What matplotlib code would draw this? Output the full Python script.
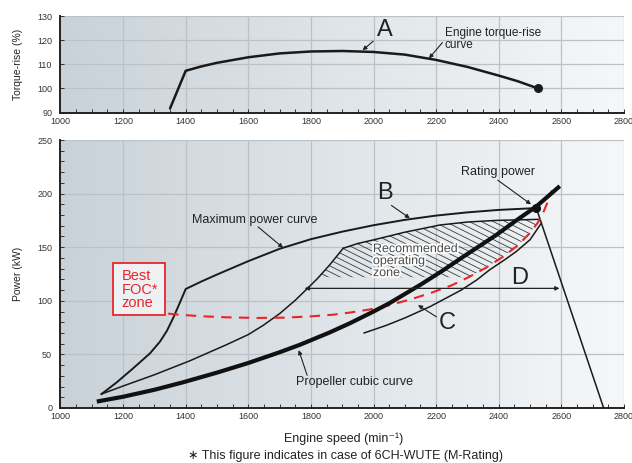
import numpy as np
import matplotlib
matplotlib.use("Agg")
import matplotlib.pyplot as plt
from matplotlib.patches import Polygon, Rectangle
from matplotlib.ticker import MultipleLocator
from matplotlib.colors import LinearSegmentedColormap
import matplotlib.patheffects as pe

plt.rcParams['font.family'] = ['Liberation Sans', 'DejaVu Sans']

# ---- data ----
# top: engine torque-rise curve
torque_rpm = [1350, 1400, 1450, 1500, 1600, 1700, 1800, 1900, 2000, 2100, 2200, 2300, 2400, 2460, 2525]
torque_pct = [91.7, 107.3, 109.1, 110.6, 112.9, 114.5, 115.3, 115.5, 115.1, 114.0, 111.8, 108.9, 105.3, 103.0, 100.0]

# bottom: maximum power curve
max_rpm = [1131, 1180, 1232, 1286, 1318, 1340, 1360, 1381, 1400, 1450, 1500, 1600, 1700,
           1800, 1900, 2000, 2100, 2200, 2300, 2400, 2520]
max_kw = [13, 24, 37, 51, 62, 72, 84, 98, 111, 118, 124.5, 137, 148.5,
          157.5, 164.5, 170.5, 175.5, 179.5, 182.5, 184.8, 186.5]

# governor line after rating point
gov_rpm = [2520, 2735]
gov_kw = [186.5, 0]

# propeller cubic curve
prop_rpm = [1116, 1200, 1300, 1392, 1500, 1600, 1700, 1765, 1860, 1924, 2000, 2052,
            2150, 2220, 2286, 2390, 2456, 2520, 2595]
prop_kw = [6, 10.5, 17, 24, 33, 42, 52, 59, 70.5, 79, 90, 98,
           115, 128, 141, 161, 175, 188, 207]

# left boundary of recommended zone
low_rpm = [1131, 1200, 1300, 1413, 1530, 1600, 1647, 1700, 1750, 1780, 1820, 1860, 1903]
low_kw = [13, 20.5, 31, 44, 59, 68.5, 77, 88, 100.5, 109, 120.5, 133.5, 149]

# upper boundary of recommended zone
zone_rpm = [1903, 1950, 1998, 2100, 2212, 2300, 2392, 2530]
zone_kw = [149, 153.5, 156.7, 164, 170.7, 173.5, 175, 176]

# line C (thin)
c_rpm = [1970, 2040, 2100, 2180, 2280, 2330, 2370, 2420, 2456, 2500, 2535]
c_kw = [70, 77, 84, 94.5, 110, 119.5, 128.7, 138.5, 146, 157, 172]

# best FOC (red dashed)
foc_rpm = [1344, 1380, 1450, 1530, 1626, 1720, 1800, 1870, 1924, 2000, 2052, 2120, 2180,
           2250, 2307, 2360, 2413, 2460, 2499, 2525, 2541, 2556, 2570]
foc_kw = [88, 87, 85.6, 84.6, 84, 84.3, 85.5, 87, 89, 92.5, 96, 101.5, 107,
          114.5, 122.5, 131, 141, 151.5, 163, 173, 181.6, 192, 203]

rating = (2520, 186.5)
torque_end = (2525, 100)
d_rpm = [1780, 2594]
d_kw = 111.6
hatch_floor = 122

fig = plt.figure(figsize=(6.32, 4.63), dpi=100)
ax1 = fig.add_axes([0.0957, 0.757, 0.8916, 0.2084])
ax2 = fig.add_axes([0.0957, 0.1188, 0.8916, 0.5788])

bg = LinearSegmentedColormap.from_list('bg', ['#c9d2d9', '#dfe5e9', '#f6f7f8'])
grad = np.linspace(0, 1, 256).reshape(1, -1)

for ax in (ax1, ax2):
    ax.imshow(grad, cmap=bg, extent=[0, 1, 0, 1], transform=ax.transAxes,
              aspect='auto', zorder=0)
    ax.set_xlim(1000, 2800)
    ax.set_xticks(np.arange(1000, 2801, 200))
    ax.xaxis.set_minor_locator(MultipleLocator(50))
    ax.grid(True, color='#bcc1c5', lw=0.9, zorder=0.5)
    ax.set_axisbelow(True)
    for s in ('top', 'right'):
        ax.spines[s].set_visible(False)
    for s in ('left', 'bottom'):
        ax.spines[s].set_color('#222222')
        ax.spines[s].set_linewidth(1.4)
    ax.tick_params(which='both', direction='in', colors='#333333', labelsize=6.5,
                   length=3, width=0.7)
    ax.tick_params(axis='x', pad=3)
    ax.tick_params(axis='y', pad=6)

ax1.set_ylim(90, 130)
ax1.set_yticks(np.arange(90, 131, 10))
ax2.set_ylim(0, 250)
ax2.set_yticks(np.arange(0, 251, 50))
ax2.yaxis.set_minor_locator(MultipleLocator(10))

arrow = dict(arrowstyle='-|>', color='#222222', lw=0.8, mutation_scale=6,
             shrinkA=0, shrinkB=0)

# ---- top panel ----
ax1.plot(torque_rpm, torque_pct, color='#1a1a1a', lw=1.8, zorder=3,
         solid_capstyle='round', solid_joinstyle='round')
ax1.plot(*torque_end, 'o', color='#1a1a1a', ms=5.5, zorder=4)
ax1.text(2036, 124.2, 'A', fontsize=17, color='#222222', ha='center', va='center')
ax1.annotate('', xy=(1965, 115.8), xytext=(1999, 119.6), arrowprops=arrow)
ax1.text(2227, 120.5, 'Engine torque-rise\ncurve', fontsize=8.5, color='#222222',
         ha='left', va='center', linespacing=1.05)
ax1.annotate('', xy=(2177, 112.4), xytext=(2220, 119), arrowprops=arrow)

# ---- bottom panel ----
# hatched recommended zone
hx_top = np.concatenate([low_rpm, zone_rpm])
hy_top = np.concatenate([low_kw, zone_kw])
keep = hy_top >= hatch_floor
x_left = np.interp(hatch_floor, low_kw, low_rpm)
foc_arr_x = np.array(foc_rpm)
foc_arr_y = np.array(foc_kw)
foc_mask = (foc_arr_y > hatch_floor) & (foc_arr_y < zone_kw[-1])
x_right = np.interp(hatch_floor, foc_kw, foc_rpm)
poly_x = np.concatenate([[x_left], hx_top[keep], foc_arr_x[foc_mask][::-1], [x_right]])
poly_y = np.concatenate([[hatch_floor], hy_top[keep], foc_arr_y[foc_mask][::-1], [hatch_floor]])
zone_patch = Polygon(np.column_stack([poly_x, poly_y]), closed=True, fill=False,
                     lw=0, zorder=1)
ax2.add_patch(zone_patch)
hx = np.array([1700, 2700])
for c in np.arange(100, 330, 5.6):
    ln, = ax2.plot(hx, c - 0.146 * (hx - 1700), color='#3a3a3a', lw=0.6, zorder=1.5)
    ln.set_clip_path(zone_patch)

thin = dict(color='#1a1a1a', lw=1.1, zorder=3, solid_joinstyle='round')
ax2.plot(low_rpm, low_kw, **thin)
ax2.plot(zone_rpm, zone_kw, **thin)
ax2.plot(gov_rpm, gov_kw, **thin)
ax2.plot(c_rpm, c_kw, **thin)
ax2.plot(max_rpm, max_kw, color='#1a1a1a', lw=1.4, zorder=3, solid_joinstyle='round')
ax2.plot(foc_rpm, foc_kw, color='#e8262a', lw=1.5, ls=(0, (5, 3.5)), zorder=3.5)
ax2.plot(prop_rpm, prop_kw, color='#111111', lw=3.0, zorder=4,
         solid_capstyle='butt', solid_joinstyle='round')
ax2.plot(*rating, 'o', color='#111111', ms=5.5, zorder=5)

# D arrow
ax2.annotate('', xy=(d_rpm[1], d_kw), xytext=(d_rpm[0], d_kw),
             arrowprops=dict(arrowstyle='<|-|>', color='#222222', lw=0.9,
                             mutation_scale=6, shrinkA=0, shrinkB=0), zorder=4)

# labels
big = dict(fontsize=17, color='#222222', ha='center', va='center')
ax2.text(2036, 200.6, 'B', **big)
ax2.annotate('', xy=(2116, 177), xytext=(2057, 189), arrowprops=arrow)
ax2.text(2237, 79.3, 'C', **big)
ax2.annotate('', xy=(2142, 96), xytext=(2201, 85), arrowprops=arrow)
ax2.text(2467, 121, 'D', **big)

lab = dict(fontsize=9, color='#222222', ha='center', va='center')
ax2.text(2397, 220, 'Rating power', **lab)
ax2.annotate('', xy=(2503, 190), xytext=(2397, 212.5), arrowprops=arrow)
ax2.text(1621, 175.4, 'Maximum power curve', **lab)
ax2.annotate('', xy=(1711, 149.5), xytext=(1631, 169), arrowprops=arrow)
ax2.text(1938, 24.5, 'Propeller cubic curve', **lab)
ax2.annotate('', xy=(1761, 54), xytext=(1788, 30.5), arrowprops=arrow)

ax2.text(1998, 137, 'Recommended\noperating\nzone', fontsize=9, color='#4a4a4a',
         ha='left', va='center', linespacing=1.0, zorder=6,
         path_effects=[pe.withStroke(linewidth=2.5, foreground='white')])

# Best FOC zone box
ax2.add_patch(Rectangle((1168, 86.8), 165, 48.2, facecolor='#eef1f3',
                        edgecolor='#e8262a', lw=1.3, zorder=6))
ax2.text(1195, 110.5, 'Best\nFOC*\nzone', fontsize=10.5, color='#e8262a',
         ha='left', va='center', linespacing=0.98, zorder=7)

# axis titles
fig.text(18 / 632, 1 - 64 / 463, 'Torque-rise (%)', rotation=90, fontsize=7.5,
         color='#222222', ha='center', va='center')
fig.text(18 / 632, 1 - 274 / 463, 'Power (kW)', rotation=90, fontsize=7.5,
         color='#222222', ha='center', va='center')
fig.text(344 / 632, 1 - 438.5 / 463, 'Engine speed (min\u207b\u00b9)', fontsize=9,
         color='#222222', ha='center', va='center')
fig.text(345 / 632, 1 - 455.5 / 463,
         '\u2217 This figure indicates in case of 6CH-WUTE (M-Rating)', fontsize=9,
         color='#222222', ha='center', va='center')

fig.savefig('out.png', dpi=100)
